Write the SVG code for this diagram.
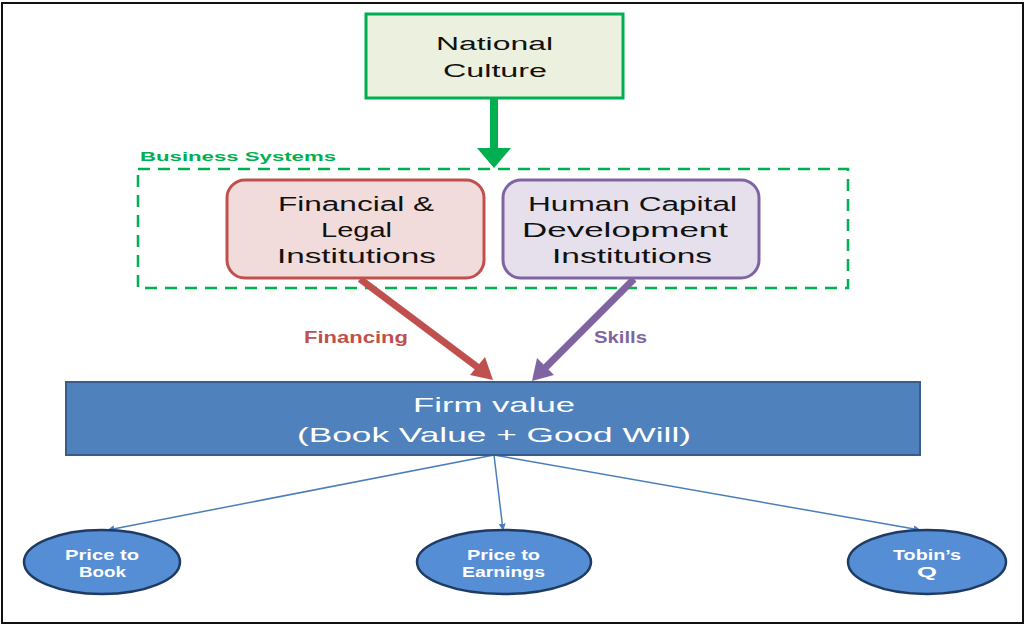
<svg xmlns="http://www.w3.org/2000/svg" width="1027" height="626" viewBox="0 0 1027 626">
<defs>
<style>
.t{font-family:"Liberation Sans",Arial,sans-serif;text-anchor:start;}
.blk{fill:#111;font-size:20px;}
.wh{fill:#fff;font-size:21px;}
.ell{fill:#fff;font-size:14px;font-weight:bold;}
.lbl{font-size:16px;font-weight:bold;}
.thin{stroke:#4a7ebb;stroke-width:1.5;fill:none;}
</style>
<marker id="ah" viewBox="0 0 10 10" refX="9" refY="5" markerWidth="7" markerHeight="7" orient="auto" markerUnits="userSpaceOnUse">
<path d="M0,0 L10,5 L0,10 z" fill="#4a7ebb"/>
</marker>
</defs>
<rect x="0" y="0" width="1027" height="626" fill="#fff"/>
<rect x="2" y="3" width="1021" height="620" fill="none" stroke="#111" stroke-width="2"/>

<g id="business-systems">
<rect x="138" y="169" width="710" height="119" fill="none" stroke="#00b050" stroke-width="2.5" stroke-dasharray="12 8"/>
<text class="t" x="140" y="161" font-size="13" font-weight="bold" fill="#00b050" textLength="196" lengthAdjust="spacingAndGlyphs">Business Systems</text>
</g>

<g id="connectors">
<path d="M490,98 L498,98 L498,148 L511,148 L494,168 L477,148 L490,148 Z" fill="#00b050"/>
<line x1="360" y1="279" x2="480" y2="369" stroke="#c0504d" stroke-width="7"/>
<path d="M493,380 L470,375 L485,357 Z" fill="#c0504d"/>
<line x1="634" y1="279" x2="544" y2="369" stroke="#8064a2" stroke-width="7"/>
<path d="M532,381 L537,358 L554,375 Z" fill="#8064a2"/>
<line class="thin" x1="494" y1="455" x2="108" y2="530" marker-end="url(#ah)"/>
<line class="thin" x1="494" y1="455" x2="503" y2="530" marker-end="url(#ah)"/>
<line class="thin" x1="494" y1="455" x2="920" y2="530" marker-end="url(#ah)"/>
<text class="t lbl" x="304" y="343" fill="#c0504d" textLength="104" lengthAdjust="spacingAndGlyphs">Financing</text>
<text class="t lbl" x="594" y="343" fill="#8064a2" textLength="53" lengthAdjust="spacingAndGlyphs">Skills</text>
</g>

<g id="national-culture">
<rect x="366" y="14" width="257" height="84" fill="#ebf1de" stroke="#00b050" stroke-width="3"/>
<text class="t" x="436" y="50" font-size="18" fill="#111" textLength="117" lengthAdjust="spacingAndGlyphs">National</text>
<text class="t" x="443" y="77" font-size="18" fill="#111" textLength="104" lengthAdjust="spacingAndGlyphs">Culture</text>
</g>

<g id="financial-legal">
<rect x="227" y="180" width="257" height="98" rx="18" fill="#f2dcdb" stroke="#c0504d" stroke-width="3"/>
<text class="t blk" x="278" y="211" textLength="156" lengthAdjust="spacingAndGlyphs">Financial &amp;</text>
<text class="t blk" x="321" y="237" textLength="71" lengthAdjust="spacingAndGlyphs">Legal</text>
<text class="t blk" x="277" y="263" textLength="159" lengthAdjust="spacingAndGlyphs">Institutions</text>
</g>

<g id="human-capital">
<rect x="503" y="180" width="256" height="98" rx="18" fill="#e5e0ec" stroke="#8064a2" stroke-width="3"/>
<text class="t blk" x="528" y="211" textLength="209" lengthAdjust="spacingAndGlyphs">Human Capital</text>
<text class="t blk" x="522" y="237" textLength="206" lengthAdjust="spacingAndGlyphs">Development</text>
<text class="t blk" x="552" y="263" textLength="160" lengthAdjust="spacingAndGlyphs">Institutions</text>
</g>

<g id="firm-value">
<rect x="66" y="382" width="854" height="73" fill="#4f81bd" stroke="#385d8a" stroke-width="2"/>
<text class="t wh" x="413" y="412" textLength="162" lengthAdjust="spacingAndGlyphs">Firm value</text>
<text class="t wh" x="297" y="442" textLength="394" lengthAdjust="spacingAndGlyphs">(Book Value + Good Will)</text>
</g>

<g id="price-to-book">
<ellipse cx="102" cy="562" rx="78" ry="32" fill="#558ed5" stroke="#1f3b63" stroke-width="2.5"/>
<text class="t ell" x="65" y="560" textLength="74" lengthAdjust="spacingAndGlyphs">Price to</text>
<text class="t ell" x="79" y="577" textLength="47" lengthAdjust="spacingAndGlyphs">Book</text>
</g>

<g id="price-to-earnings">
<ellipse cx="504" cy="562" rx="87" ry="32" fill="#558ed5" stroke="#1f3b63" stroke-width="2.5"/>
<text class="t ell" x="467" y="560" textLength="73" lengthAdjust="spacingAndGlyphs">Price to</text>
<text class="t ell" x="462" y="577" textLength="83" lengthAdjust="spacingAndGlyphs">Earnings</text>
</g>

<g id="tobins-q">
<ellipse cx="927" cy="562" rx="79" ry="32" fill="#558ed5" stroke="#1f3b63" stroke-width="2.5"/>
<text class="t ell" x="893" y="560" textLength="68" lengthAdjust="spacingAndGlyphs">Tobin’s</text>
<text class="t ell" x="917" y="577" textLength="20" lengthAdjust="spacingAndGlyphs">Q</text>
</g>
</svg>
